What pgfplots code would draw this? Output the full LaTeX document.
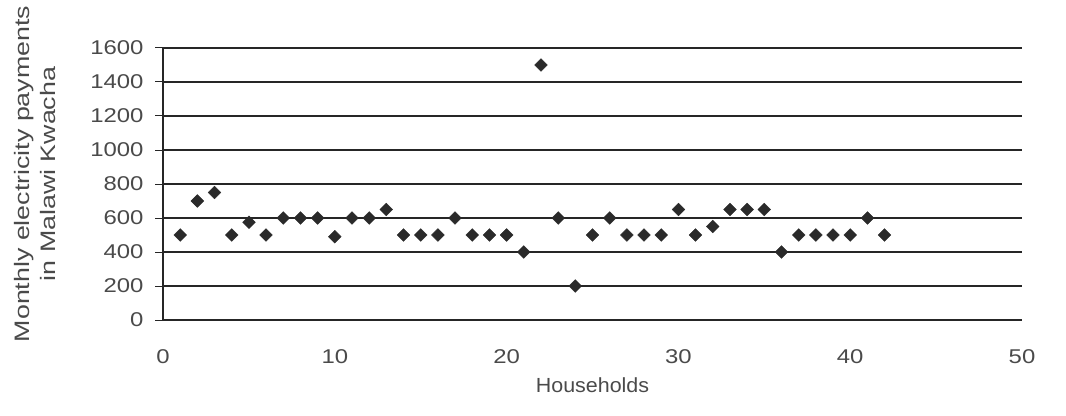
\documentclass[border=0pt]{standalone}
\usepackage{pgfplots}
\pgfplotsset{compat=1.18}
\usepackage{fontspec}
\setmainfont{Liberation Sans}
\newfontfamily\tickfont[FakeStretch=1.2]{Liberation Sans}
\newfontfamily\labfont[FakeStretch=1.28]{Liberation Sans}
\newfontfamily\xlabfont[FakeStretch=1.05]{Liberation Sans}
\definecolor{txt}{HTML}{4A4A4A}
\definecolor{mk}{HTML}{2A2A2A}
\begin{document}
\begin{tikzpicture}[x=1bp,y=1bp]
\path[use as bounding box] (0,0) rectangle (1066,415);
\begin{axis}[
  at={(163bp,95bp)}, anchor=south west,
  scale only axis, width=859bp, height=272bp,
  xmin=0, xmax=50, ymin=0, ymax=1600,
  xtick={0,10,...,50}, ytick={0,200,...,1600},
  axis x line*=bottom, axis y line*=left,
  x axis line style={draw=none},
  ymajorgrids, grid style={black!85, line width=1.2pt},
  y axis line style={line width=1.2pt, black!85},
  ytick style={black!85, line width=1pt},
  major tick length=16bp,
  xtick style={draw=none},
  ytick align=center,
  tick label style={font=\tickfont\fontsize{20}{24}\selectfont, text=txt},
  /pgf/number format/assume math mode=true,
  /pgf/number format/1000 sep={},
  xticklabel style={yshift=-26bp},
  yticklabel style={xshift=-8bp},
  xlabel={Households},
  xlabel style={font=\xlabfont\fontsize{20.5}{24}\selectfont, text=txt, at={(axis description cs:0.5,0)}, anchor=center, yshift=-65bp},
  ylabel={Monthly electricity payments\\in Malawi Kwacha},
  ylabel style={font=\labfont\fontsize{21}{26}\selectfont, text=txt, align=center, at={(axis description cs:-0.149,0.537)}, anchor=center},
  clip=false,
]
\addplot[only marks, mark=square*, mark size=4.5bp, mark options={rotate=45, fill=mk, draw=mk}] coordinates {
(1,500) (2,700) (3,750) (4,500) (5,575) (6,500) (7,600) (8,600) (9,600) (10,490)
(11,600) (12,600) (13,650) (14,500) (15,500) (16,500) (17,600) (18,500) (19,500) (20,500)
(21,400) (22,1500) (23,600) (24,200) (25,500) (26,600) (27,500) (28,500) (29,500) (30,650)
(31,500) (32,550) (33,650) (34,650) (35,650) (36,400) (37,500) (38,500) (39,500) (40,500)
(41,600) (42,500)
};
\end{axis}
\end{tikzpicture}
\end{document}
